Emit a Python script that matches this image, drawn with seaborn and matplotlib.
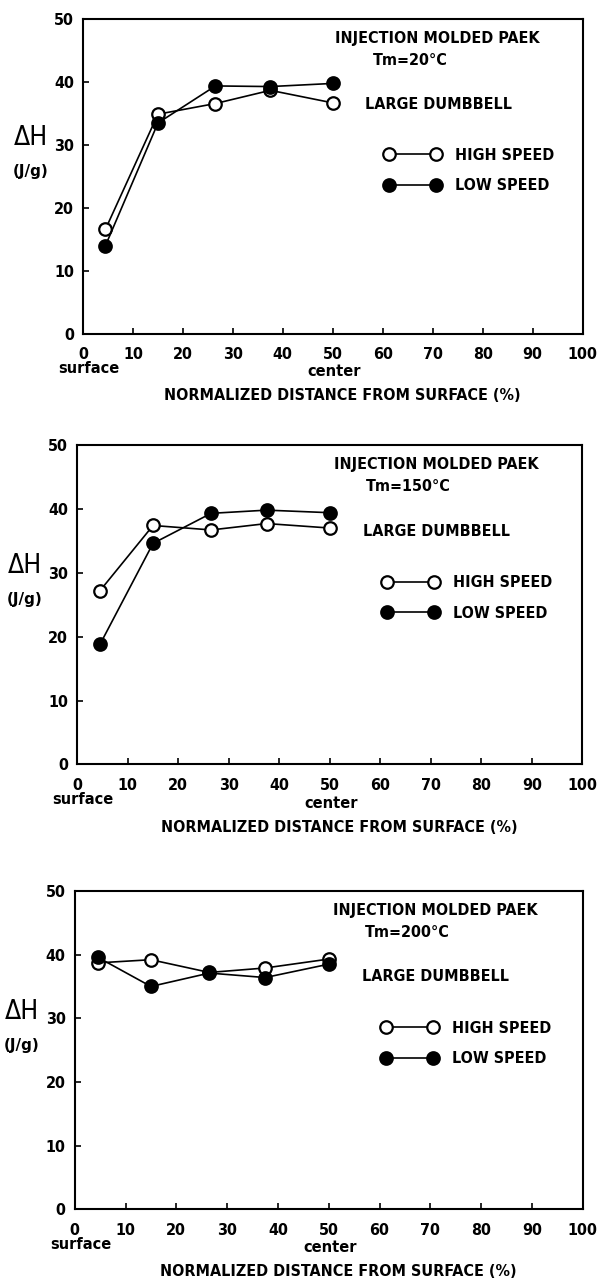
import matplotlib
matplotlib.use('Agg')
import matplotlib.pyplot as plt
import matplotlib.transforms as mtransforms
import seaborn as sns
import pandas as pd

# distance from surface (%) for the five slices
depth = [4.5, 15, 26.5, 37.5, 50]

# heat of fusion (J/g)
high_20 = [16.6, 34.9, 36.6, 38.7, 36.7]
low_20 = [14.0, 33.5, 39.4, 39.3, 39.8]
high_150 = [27.2, 37.4, 36.7, 37.7, 37.0]
low_150 = [18.8, 34.6, 39.3, 39.8, 39.4]
high_200 = [38.7, 39.2, 37.2, 37.9, 39.3]
low_200 = [39.6, 35.0, 37.1, 36.4, 38.5]

mold_temps = ['20', '150', '200']
series = [(high_20, low_20), (high_150, low_150), (high_200, low_200)]
x_ticks = [0, 10, 20, 30, 40, 50, 60, 70, 80, 90, 100]
y_ticks = [0, 10, 20, 30, 40, 50]

sns.set_style('ticks')
plt.rcParams['font.family'] = ['DejaVu Sans']
plt.rcParams['font.stretch'] = 'condensed'
plt.rcParams['xtick.direction'] = 'in'
plt.rcParams['ytick.direction'] = 'in'
for key in ['text.color', 'axes.labelcolor', 'xtick.color', 'ytick.color']:
    plt.rcParams[key] = 'black'

fs = 11.5

fig = plt.figure(figsize=(6.01, 12.79), dpi=100)
boxes = [[0.1381, 0.7392, 0.8314, 0.2457],
         [0.1286, 0.4023, 0.8403, 0.2498],
         [0.1243, 0.0545, 0.8453, 0.2489]]

for box, tm, (high, low) in zip(boxes, mold_temps, series):
    ax = fig.add_axes(box)
    df = pd.DataFrame({'x': depth, 'high': high, 'low': low})

    sns.lineplot(data=df, x='x', y='high', ax=ax, color='black', lw=1.2,
                 marker='o', markersize=9, markerfacecolor='white',
                 markeredgecolor='black', markeredgewidth=1.6,
                 label='HIGH SPEED', zorder=3)
    sns.lineplot(data=df, x='x', y='low', ax=ax, color='black', lw=1.2,
                 marker='o', markersize=9, markerfacecolor='black',
                 markeredgecolor='black', markeredgewidth=1.6,
                 label='LOW SPEED', zorder=4)

    ax.set_xlim(0, 100)
    ax.set_ylim(0, 50)
    ax.set_xticks(x_ticks)
    ax.set_yticks(y_ticks)
    ax.tick_params(labelsize=fs, length=4, width=1.2, pad=6.5)
    ax.tick_params(axis='x', pad=10)
    for lab in ax.get_xticklabels() + ax.get_yticklabels():
        lab.set_fontweight('bold')
    for sp in ax.spines.values():
        sp.set_visible(True)
        sp.set_linewidth(1.5)
        sp.set_color('black')

    ax.set_xlabel('')
    ax.set_ylabel('')
    ax.text(0.519, -0.196, 'NORMALIZED DISTANCE FROM SURFACE (%)', transform=ax.transAxes,
            ha='center', va='center', fontsize=fs, fontweight='bold')
    blend = mtransforms.blended_transform_factory(ax.transData, ax.transAxes)
    ax.text(1.2, -0.11, 'surface', transform=blend, ha='center', va='center',
            fontsize=10.5, fontweight='bold', fontstretch='normal')
    ax.text(50.2, -0.121, 'center', transform=blend, ha='center', va='center',
            fontsize=10.5, fontweight='bold', fontstretch='normal')
    ax.text(-0.104, 0.621, 'ΔH', transform=ax.transAxes, ha='center', va='center',
            fontsize=19)
    ax.text(-0.104, 0.516, '(J/g)', transform=ax.transAxes, ha='center', va='center',
            fontsize=11, fontweight='bold', fontstretch='normal')

    ax.text(0.71, 0.94, 'INJECTION MOLDED PAEK', transform=ax.transAxes, ha='center',
            va='center', fontsize=fs, fontweight='bold')
    ax.text(0.655, 0.87, f'Tm={tm}°C', transform=ax.transAxes, ha='center',
            va='center', fontsize=fs, fontweight='bold')
    ax.text(0.565, 0.73, 'LARGE DUMBBELL', transform=ax.transAxes, ha='left',
            va='center', fontsize=fs, fontweight='bold')

    leg = ax.legend(loc='upper left', bbox_to_anchor=(0.603, 0.592), frameon=False,
                    numpoints=2, handlelength=3.54, handletextpad=0.89,
                    labelspacing=0.98, borderpad=0, borderaxespad=0,
                    prop={'size': fs, 'weight': 'bold'})

fig.savefig('out.png', dpi=100)
